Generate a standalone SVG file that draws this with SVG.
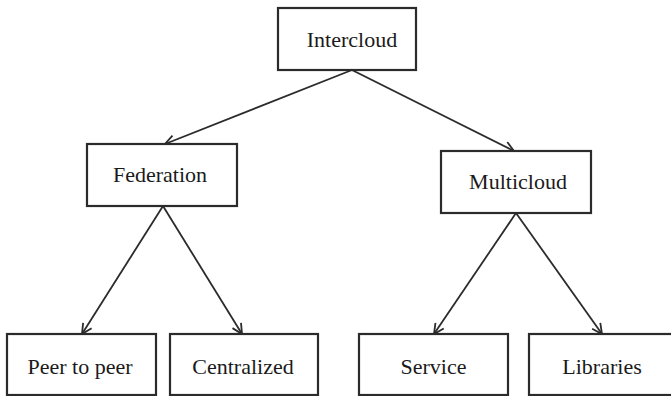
<svg xmlns="http://www.w3.org/2000/svg" width="671" height="396" viewBox="0 0 671 396">
<defs>
<style>
.box{fill:#fff;stroke:#2b2b2b;stroke-width:2.2}
.lbl{font-family:"Liberation Serif","Times New Roman",serif;font-size:22px;fill:#1a1a1a;text-anchor:middle}
.edge{stroke:#2b2b2b;stroke-width:1.8;fill:none}
</style>
<marker id="arr" viewBox="0 0 12 12" refX="11" refY="6" markerWidth="12" markerHeight="12" markerUnits="userSpaceOnUse" orient="auto">
<path d="M1,1 L11,6 L1,11" fill="none" stroke="#2b2b2b" stroke-width="1.8"/>
</marker>
</defs>
<rect width="671" height="396" fill="#fff"/>
<g id="connectors">
<line class="edge" x1="352" y1="70" x2="165" y2="144" marker-end="url(#arr)"/>
<line class="edge" x1="352" y1="70" x2="514" y2="151" marker-end="url(#arr)"/>
<line class="edge" x1="163" y1="206" x2="82" y2="334" marker-end="url(#arr)"/>
<line class="edge" x1="163" y1="206" x2="242" y2="334" marker-end="url(#arr)"/>
<line class="edge" x1="516" y1="213" x2="434" y2="334" marker-end="url(#arr)"/>
<line class="edge" x1="516" y1="213" x2="602" y2="334" marker-end="url(#arr)"/>
</g>
<g id="intercloud"><rect class="box" x="278" y="8" width="138" height="62"/><text class="lbl" x="352" y="47">Intercloud</text></g>
<g id="federation"><rect class="box" x="87" y="144" width="150" height="62"/><text class="lbl" x="160" y="182">Federation</text></g>
<g id="multicloud"><rect class="box" x="441" y="151" width="150" height="62"/><text class="lbl" x="518" y="189">Multicloud</text></g>
<g id="peer"><rect class="box" x="7" y="334" width="149" height="61"/><text class="lbl" x="80" y="374">Peer to peer</text></g>
<g id="centralized"><rect class="box" x="170" y="334" width="148" height="61"/><text class="lbl" x="243" y="374">Centralized</text></g>
<g id="service"><rect class="box" x="359" y="334" width="149" height="61"/><text class="lbl" x="433.5" y="374">Service</text></g>
<g id="libraries"><rect class="box" x="529" y="334" width="149" height="61"/><text class="lbl" x="602" y="374">Libraries</text></g>
</svg>
